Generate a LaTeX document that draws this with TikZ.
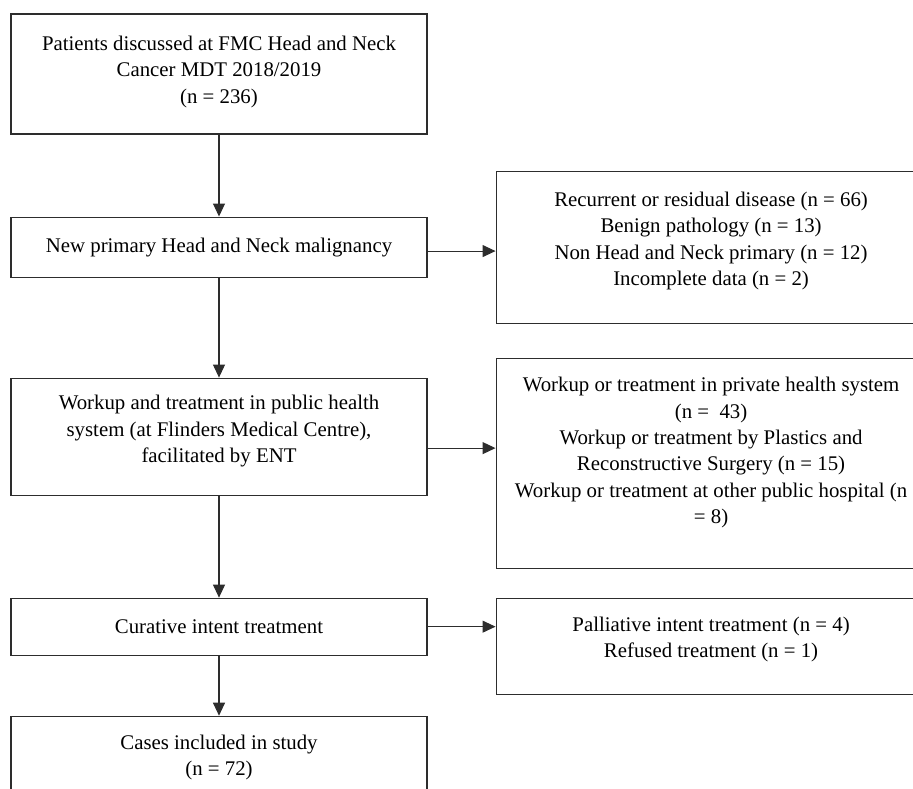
\documentclass[tikz,border=0pt]{standalone}
\usepackage{fontspec}
\setmainfont{Liberation Serif}
\usetikzlibrary{positioning,arrows.meta}
\definecolor{lineColor}{RGB}{45,45,45}
\newcommand{\lift}[1]{\rule[-#1]{0pt}{#1}}

\begin{document}
\begin{tikzpicture}[font=\fontsize{11.85}{15}\selectfont,
stepbox/.style={
    draw=lineColor, line width=0.6pt, align=center,
    minimum width=8.32cm, inner sep=2pt},
sidebox/.style={
    draw=lineColor, line width=0.6pt, align=center,
    minimum width=8.6cm, inner sep=2pt},
flow/.style={
    -{Triangle[length=2.6mm,width=2.4mm]}, line width=0.6pt, draw=lineColor}
]

\useasboundingbox (0,0) rectangle (18.26,-15.78);
\clip (0,0) rectangle (18.26,-15.78);

\node[stepbox, minimum height=2.4cm] at (4.38,-1.48) (patients)
    {Patients discussed at FMC Head and Neck\\ Cancer MDT 2018/2019\\ (n = 236)\lift{5.2pt}};
\node[stepbox, minimum height=1.2cm, below=1.64cm of patients] (primary)
    {New primary Head and Neck malignancy};
\node[stepbox, minimum height=2.34cm, below=2.0cm of primary] (workup)
    {Workup and treatment in public health\\ system (at Flinders Medical Centre),\\ facilitated by ENT\lift{8.7pt}};
\node[stepbox, minimum height=1.14cm, below=2.04cm of workup] (curative)
    {Curative intent treatment};
\node[stepbox, minimum height=1.66cm, below=1.2cm of curative] (included)
    {Cases included in study\\ (n = 72)};

\node[sidebox, minimum height=3.04cm, right=1.36cm of primary] (excluded)
    {Recurrent or residual disease (n = 66)\\ Benign pathology (n = 13)\\
     Non Head and Neck primary (n = 12)\\ Incomplete data (n = 2)\lift{9.3pt}};
\node[sidebox, minimum height=4.2cm, right=1.36cm of workup, yshift=-0.53cm] (elsewhere)
    {Workup or treatment in private health system\\ (n = \ 43)\\
     Workup or treatment by Plastics and\\ Reconstructive Surgery (n = 15)\\
     Workup or treatment at other public hospital (n\\ = 8)\lift{14.4pt}};
\node[sidebox, minimum height=1.92cm, right=1.36cm of curative, yshift=-0.39cm] (palliative)
    {Palliative intent treatment (n = 4)\\ Refused treatment (n = 1)\lift{9.8pt}};

\foreach \from/\to in {patients/primary, primary/workup, workup/curative, curative/included}
    \draw[flow] (\from) -- (\to);

\coordinate (primaryOut) at ([yshift=-0.08cm]primary.east);
\coordinate (workupOut) at ([yshift=-0.23cm]workup.east);
\draw[flow] (primaryOut) -- (primaryOut -| excluded.west);
\draw[flow] (workupOut) -- (workupOut -| elsewhere.west);
\draw[flow] (curative.east) -- (curative.east -| palliative.west);

\end{tikzpicture}
\end{document}
